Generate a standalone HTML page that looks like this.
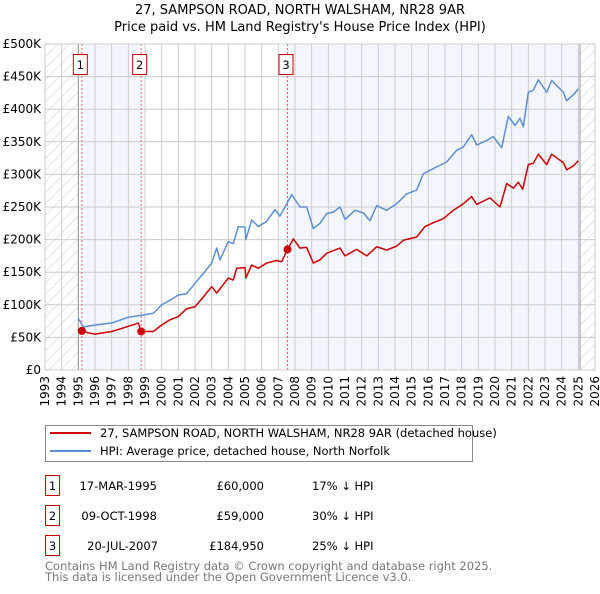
<!DOCTYPE html>
<html><head><meta charset="utf-8">
<style>
body{margin:0;background:#fff;width:600px;height:590px;overflow:hidden;font-family:"DejaVu Sans","Liberation Sans",sans-serif;}
svg text{font-family:"DejaVu Sans","Liberation Sans",sans-serif;}
</style></head>
<body>
<svg id="chart" width="600" height="590" xmlns="http://www.w3.org/2000/svg">
<text x="300" y="14" text-anchor="middle" font-size="13" fill="#000">27, SAMPSON ROAD, NORTH WALSHAM, NR28 9AR</text>
<text x="300" y="31" text-anchor="middle" font-size="13" fill="#000">Price paid vs. HM Land Registry's House Price Index (HPI)</text>
<defs><pattern id="hatch" patternUnits="userSpaceOnUse" width="8" height="8" patternTransform="rotate(45)"><line x1="0" y1="0" x2="0" y2="8" stroke="#ccc" stroke-width="1"/></pattern></defs>
<g id="plot"></g>
<g>
<rect x="45.5" y="425.5" width="427" height="36" fill="#fff" stroke="#888"/>
<line x1="50" y1="433" x2="91" y2="433" stroke="#cc0000" stroke-width="2"/>
<text x="100" y="437" font-size="11.5">27, SAMPSON ROAD, NORTH WALSHAM, NR28 9AR (detached house)</text>
<line x1="50" y1="451" x2="91" y2="451" stroke="#5b8fd4" stroke-width="2"/>
<text x="100" y="455" font-size="11.5">HPI: Average price, detached house, North Norfolk</text>
</g>
<g font-size="11.5">
<rect x="45.5" y="475.5" width="14" height="20" fill="#fff" stroke="#cc0000"/><text x="52.5" y="490" text-anchor="middle">1</text>
<text x="157" y="490" text-anchor="end">17-MAR-1995</text><text x="264" y="490" text-anchor="end">£60,000</text><text x="312" y="490">17% ↓ HPI</text>
<rect x="45.5" y="505.5" width="14" height="20" fill="#fff" stroke="#cc0000"/><text x="52.5" y="520" text-anchor="middle">2</text>
<text x="157" y="520" text-anchor="end">09-OCT-1998</text><text x="264" y="520" text-anchor="end">£59,000</text><text x="312" y="520">30% ↓ HPI</text>
<rect x="45.5" y="535.5" width="14" height="20" fill="#fff" stroke="#cc0000"/><text x="52.5" y="550" text-anchor="middle">3</text>
<text x="158" y="550" text-anchor="end">20-JUL-2007</text><text x="264" y="550" text-anchor="end">£184,950</text><text x="312" y="550">25% ↓ HPI</text>
</g>
<text x="45" y="570" font-size="11.5" fill="#777">Contains HM Land Registry data © Crown copyright and database right 2025.</text>
<text x="45" y="581" font-size="11.5" fill="#777">This data is licensed under the Open Government Licence v3.0.</text>
</svg>
<script>
const yTicks=[0,50,100,150,200,250,300,350,400,450,500];
const yTickLabels=["£0","£50K","£100K","£150K","£200K","£250K","£300K","£350K","£400K","£450K","£500K"];
const years=[1993,1994,1995,1996,1997,1998,1999,2000,2001,2002,2003,2004,2005,2006,2007,2008,2009,2010,2011,2012,2013,2014,2015,2016,2017,2018,2019,2020,2021,2022,2023,2024,2025,2026];
const saleDates=[1995.21,1998.77,2007.55];
const salePrices=[60,59,184.95];
const saleLabels=["1","2","3"];
const hpiDates=[1995.0,1995.3,1996,1997,1998,1998.8,1999.5,2000,2000.5,2001,2001.5,2002,2002.5,2003,2003.3,2003.5,2004,2004.3,2004.6,2005,2005.05,2005.4,2005.8,2006.3,2006.8,2007.1,2007.8,2008.3,2008.7,2009.1,2009.5,2009.9,2010.3,2010.7,2011.0,2011.6,2012.1,2012.5,2012.9,2013.5,2014.1,2014.7,2015.3,2015.7,2016.3,2017.1,2017.7,2018.1,2018.6,2018.9,2019.5,2019.9,2020.4,2020.8,2021.2,2021.5,2021.7,2022.0,2022.3,2022.6,2023.1,2023.4,2024.1,2024.3,2024.7,2025.0];
const hpiValues=[79,66,69,72,81,84,87,100,107,115,117,133,148,164,187,169,197,194,220,219,200,230,220,228,246,236,269,250,250,217,225,240,242,250,231,245,241,229,252,245,255,270,276,301,309,319,337,342,361,345,352,358,341,389,375,386,373,426,429,445,426,444,426,413,422,431];
const priceDates=[1995.21,1995.6,1996,1997,1998,1998.6,1998.77,1999.5,2000,2000.5,2001,2001.5,2002,2002.5,2003,2003.3,2004,2004.3,2004.5,2005,2005.05,2005.4,2005.8,2006.3,2006.9,2007.2,2007.55,2007.9,2008.3,2008.7,2009.1,2009.5,2009.9,2010.7,2011.0,2011.7,2012.3,2012.9,2013.5,2014.1,2014.5,2015.3,2015.8,2016.3,2016.9,2017.5,2018.0,2018.6,2018.9,2019.7,2020.3,2020.7,2021.1,2021.4,2021.66,2022.0,2022.3,2022.6,2023.1,2023.4,2024.1,2024.3,2024.7,2025.0];
const priceValues=[60,57,55,59,67,72,59,59,69,77,82,94,97,112,128,118,141,138,156,157,141,161,156,164,168,166,185,201,187,188,164,169,179,187,175,185,175,189,184,190,199,204,220,226,232,245,253,266,254,264,250,286,279,288,277,315,317,331,315,331,318,307,313,321];

const NS="http://www.w3.org/2000/svg";
const L=45,R=595,T=44,B=370;
const xS=y=>L+(y-1993)*(R-L)/33;
const yS=v=>B-v*(B-T)/500;
const g=document.getElementById('plot');
function mk(tag,attrs){const e=document.createElementNS(NS,tag);for(const k in attrs)e.setAttribute(k,attrs[k]);g.appendChild(e);return e;}

const bg=mk('rect',{x:L,y:T,width:R-L,height:B-T,fill:'#fff'});


const sh1=mk('rect',{x:xS(saleDates[0]),y:T,width:xS(saleDates[1])-xS(saleDates[0]),height:B-T,fill:'#f3f6fd'});


const sh2=mk('rect',{x:xS(saleDates[2]),y:T,width:xS(2025.1)-xS(saleDates[2]),height:B-T,fill:'#f3f6fd'});


const h1=mk('rect',{x:L,y:T,width:xS(1995)-L,height:B-T,fill:'url(#hatch)'});


const h2=mk('rect',{x:xS(2025.1),y:T,width:R-xS(2025.1),height:B-T,fill:'url(#hatch)'});



years.forEach(yr=>{
  const x=xS(yr);
  const gl=mk('line',{x1:x,y1:T,x2:x,y2:B,stroke:'#cccccc','stroke-width':1});
  
  
  const t=mk('text',{x:0,y:0,'font-size':12,'text-anchor':'end',transform:`translate(${x+4},${B+6}) rotate(-90)`});
  t.textContent=yr;
  
  
});
yTicks.forEach((v,i)=>{
  const y=yS(v);
  const gl=mk('line',{x1:L,y1:y,x2:R,y2:y,stroke:'#cccccc','stroke-width':1});
  
  
  const t=mk('text',{x:L-4,y:y+4,'font-size':12,'text-anchor':'end'});
  t.textContent=yTickLabels[i];
  
  
});
const e1=mk('line',{x1:xS(1995),y1:T,x2:xS(1995),y2:B,stroke:'#999'});


const e2=mk('line',{x1:xS(2025.1),y1:T,x2:xS(2025.1),y2:B,stroke:'#999'});



saleDates.forEach((d,i)=>{
  const x=xS(d);
  const l=mk('line',{x1:x,y1:T,x2:x,y2:B,stroke:'#e8606a','stroke-dasharray':'2,2'});
  
  
  const r=mk('rect',{x:x-8.5,y:T+10.5,width:14,height:20,fill:'#fff',stroke:'#cc0000'});
  
  
  const t=mk('text',{x:x-1.5,y:T+25,'font-size':11.5,'text-anchor':'middle'});
  t.textContent=saleLabels[i];
  
  
});

const hp=mk('polyline',{points:hpiDates.map((d,i)=>xS(d)+','+yS(hpiValues[i])).join(' '),fill:'none',stroke:'#5b8fd4','stroke-width':1.5,'stroke-linejoin':'round'});


const pp=mk('polyline',{points:priceDates.map((d,i)=>xS(d)+','+yS(priceValues[i])).join(' '),fill:'none',stroke:'#cc0000','stroke-width':1.5,'stroke-linejoin':'round'});


saleDates.forEach((d,i)=>{
  const c=mk('circle',{cx:xS(d),cy:yS(salePrices[i]),r:4,fill:'#cc0000'});
  
  
});
const ax=mk('rect',{x:L,y:T,width:R-L,height:B-T,fill:'none',stroke:'#cccccc'});


</script>
</body></html>
